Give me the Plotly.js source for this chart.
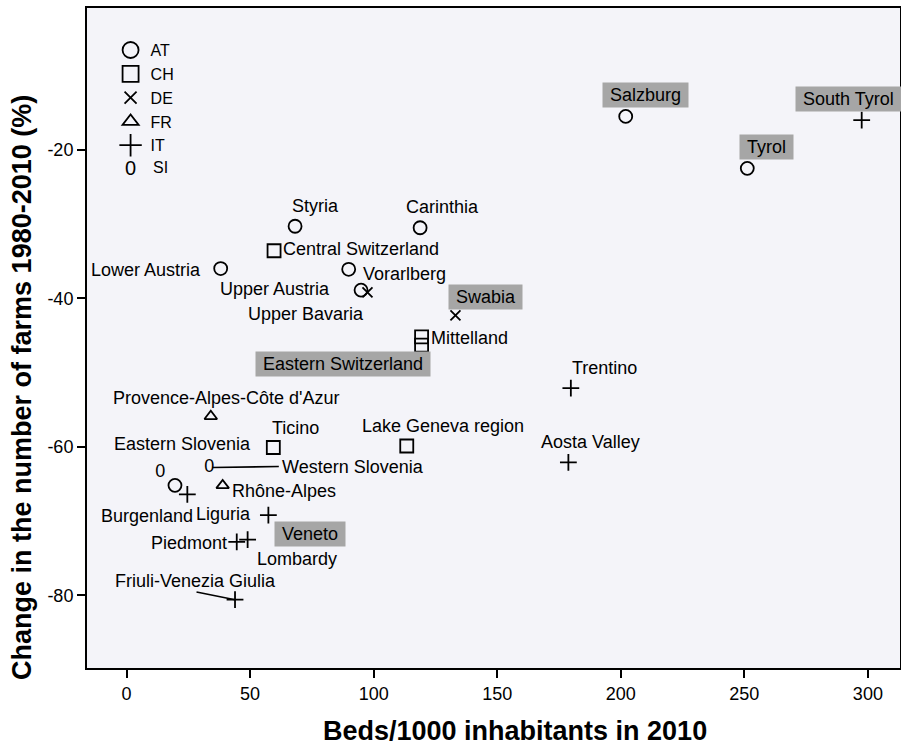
<!DOCTYPE html>
<html>
<head>
<meta charset="utf-8">
<script src="https://cdn.plot.ly/plotly-3.0.1.min.js"></script>
<style>html,body{margin:0;padding:0;background:#fff;}#chart{width:901px;height:746px;}</style>
</head>
<body>
<div id="chart"></div>
<script>
// ---- data ----
const countries = ['AT', 'CH', 'DE', 'FR', 'IT', 'SI'];
const regionNames = [
  'Salzburg', 'Tyrol', 'Styria', 'Carinthia', 'Lower Austria', 'Vorarlberg', 'Upper Austria', 'Burgenland',
  'Central Switzerland', 'Mittelland', 'Eastern Switzerland', 'Ticino', 'Lake Geneva region',
  'Upper Bavaria', 'Swabia',
  "Provence-Alpes-Côte d'Azur", 'Rhône-Alpes',
  'South Tyrol', 'Trentino', 'Aosta Valley', 'Liguria', 'Piedmont', 'Lombardy', 'Veneto', 'Friuli-Venezia Giulia',
  'Eastern Slovenia', 'Western Slovenia'
];
const regionCountry = [
  'AT', 'AT', 'AT', 'AT', 'AT', 'AT', 'AT', 'AT',
  'CH', 'CH', 'CH', 'CH', 'CH',
  'DE', 'DE',
  'FR', 'FR',
  'IT', 'IT', 'IT', 'IT', 'IT', 'IT', 'IT', 'IT',
  'SI', 'SI'
];
const bedsPer1000 = [
  202.0, 251.2, 68.2, 118.8, 38.1, 89.9, 94.9, 19.6,
  59.7, 119.4, 119.4, 59.4, 113.4,
  97.5, 133.1,
  34.1, 38.9,
  297.5, 179.8, 178.8, 57.4, 44.6, 49.0, 24.6, 43.9,
  13.6, 33.5
];
const farmChange = [
  -15.5, -22.5, -30.3, -30.5, -36.0, -36.1, -38.9, -65.2,
  -33.6, -45.2, -46.3, -60.1, -59.9,
  -39.2, -42.3,
  -55.9, -65.2,
  -16.0, -52.1, -62.1, -69.2, -72.8, -72.5, -66.4, -80.6,
  -63.5, -62.8
];
const xTickVals = [0, 50, 100, 150, 200, 250, 300];
const yTickVals = [-80, -60, -40, -20];
const yTickText = ['-80', '-60', '-40', '-20'];
const xTitle = 'Beds/1000 inhabitants in 2010';
const yTitle = 'Change in the number of farms 1980-2010 (%)';

// ---- label placement (pixel offsets from each point; style only) ----
const labelDx     = [20, 19, 20, 22, -18, 12, -29, -28,   7, 7, -79, 22, 36,   -1, 30,   16, 7,   -13, 34, 22, -15, -8, 49, 123, -40,   22, 71];
const labelDy     = [-21, -21, -20, -21, 1, 5, -1, 31,    -2, 1, 19, -20, -20,  22, -18,  -18, 6,  -21, -20, -20, -1, 1, 19, 40, -19,   -29, -1];
const labelAnchor = ['center','center','center','center','right','left','right','center',
                     'left','left','center','center','center',
                     'right','center',
                     'center','left',
                     'center','center','center','right','right','center','center','center',
                     'center','left'];
const labelBoxed  = ['Salzburg', 'Tyrol', 'Eastern Switzerland', 'Swabia', 'South Tyrol', 'Veneto'];
const leaderLines = { 'Friuli-Venezia Giulia': [-40, -8, 0], 'Western Slovenia': [71, -1, 3] };

const markerStyle = {
  AT: { symbol: 'circle-open', size: 13, lsize: 16 },
  CH: { symbol: 'square-open', size: 13, lsize: 16 },
  DE: { symbol: 'x-thin-open', size: 10, lsize: 12 },
  FR: { symbol: 'triangle-up-open', size: 11, lsize: 14 },
  IT: { symbol: 'cross-thin-open', size: 12, lsize: 16 }
};

const FONT = 'Liberation Sans, Arial, sans-serif';

const traces = [];
countries.forEach(c => {
  const idx = regionCountry.map((rc, i) => rc === c ? i : -1).filter(i => i >= 0);
  const t = {
    type: 'scatter',
    name: c,
    x: idx.map(i => bedsPer1000[i]),
    y: idx.map(i => farmChange[i]),
    hovertext: idx.map(i => regionNames[i]),
    cliponaxis: false,
    showlegend: false
  };
  if (c === 'SI') {
    t.mode = 'text';
    t.text = idx.map(() => '0');
    t.textposition = 'middle center';
    t.textfont = { family: FONT, size: 18, color: '#000' };
  } else {
    t.mode = 'markers';
    t.marker = { symbol: markerStyle[c].symbol, size: markerStyle[c].size, color: '#000',
                 line: { color: '#000', width: 1.8 } };
  }
  traces.push(t);
});
// legend entries (larger symbols, as in the reference legend)
countries.forEach(c => {
  if (c === 'SI') return;
  traces.push({
    type: 'scatter', mode: 'markers', name: c, x: [null], y: [null], showlegend: true,
    marker: { symbol: markerStyle[c].symbol, size: markerStyle[c].lsize, color: '#000',
              line: { color: '#000', width: 1.8 } }
  });
});

const annotations = [];
regionNames.forEach((name, i) => {
  const boxed = labelBoxed.includes(name);
  const txt = boxed ? '&nbsp;' + name + '&nbsp;' : name;
  const a = {
    x: bedsPer1000[i], y: farmChange[i], xref: 'x', yref: 'y',
    text: txt, showarrow: false,
    xanchor: labelAnchor[i], yanchor: 'middle',
    xshift: labelDx[i], yshift: -labelDy[i],
    font: { family: FONT, size: 18, color: '#000' }
  };
  if (boxed) { a.bgcolor = '#a6a6a6'; a.borderpad = 2; }
  annotations.push(a);
  if (leaderLines[name]) {
    const L = leaderLines[name];
    annotations.push({
      x: bedsPer1000[i], y: farmChange[i], xref: 'x', yref: 'y',
      text: '', showarrow: true, arrowhead: 0, arrowwidth: 1.6, arrowcolor: '#000',
      ax: L[0], ay: L[1], standoff: L[2]
    });
  }
});
// SI legend row (its symbol is a glyph, drawn as text like the SI points)
annotations.push({ xref: 'paper', yref: 'paper', x: 0.0529, y: 0.7583, text: '0', showarrow: false,
  xanchor: 'center', yanchor: 'middle', font: { family: FONT, size: 20, color: '#000' } });
annotations.push({ xref: 'paper', yref: 'paper', x: 0.0787, y: 0.7583, text: 'SI', showarrow: false,
  xanchor: 'left', yanchor: 'middle', font: { family: FONT, size: 16, color: '#000' } });
// axis titles (offset like the reference)
annotations.push({ xref: 'paper', yref: 'paper', x: 0.5264, y: -0.0955, text: xTitle, showarrow: false,
  xanchor: 'center', yanchor: 'middle', font: { family: FONT, size: 27, color: '#000', weight: 'bold' } });
annotations.push({ xref: 'paper', yref: 'paper', x: -0.08, y: 0.4258, text: yTitle, showarrow: false,
  textangle: -90, xanchor: 'center', yanchor: 'middle',
  font: { family: FONT, size: 27, color: '#000', weight: 'bold' } });

const layout = {
  width: 901, height: 746,
  margin: { l: 87, r: 1, t: 8, b: 78 },
  paper_bgcolor: '#ffffff',
  plot_bgcolor: '#f4f4f9',
  font: { family: FONT, size: 18, color: '#000' },
  showlegend: true,
  legend: {
    x: 0.029, y: 0.962, xanchor: 'left', yanchor: 'top',
    bgcolor: 'rgba(0,0,0,0)', font: { family: FONT, size: 16, color: '#000' },
    tracegroupgap: 0, itemwidth: 30
  },
  xaxis: {
    range: [-16, 313], showgrid: false, zeroline: false,
    tickmode: 'array', tickvals: xTickVals,
    ticks: 'outside', ticklen: 8, tickwidth: 2, tickcolor: '#000',
    showline: true, linecolor: '#000', linewidth: 2, mirror: true,
    tickfont: { family: FONT, size: 18, color: '#000' }
  },
  yaxis: {
    range: [-89.8, -0.9], showgrid: false, zeroline: false,
    tickmode: 'array', tickvals: yTickVals, ticktext: yTickText,
    ticks: 'outside', ticklen: 8, tickwidth: 2, tickcolor: '#000',
    showline: true, linecolor: '#000', linewidth: 2, mirror: true,
    tickfont: { family: FONT, size: 18, color: '#000' }
  },
  annotations: annotations
};

Plotly.newPlot('chart', traces, layout, { displayModeBar: false, staticPlot: true });
</script>
</body>
</html>
